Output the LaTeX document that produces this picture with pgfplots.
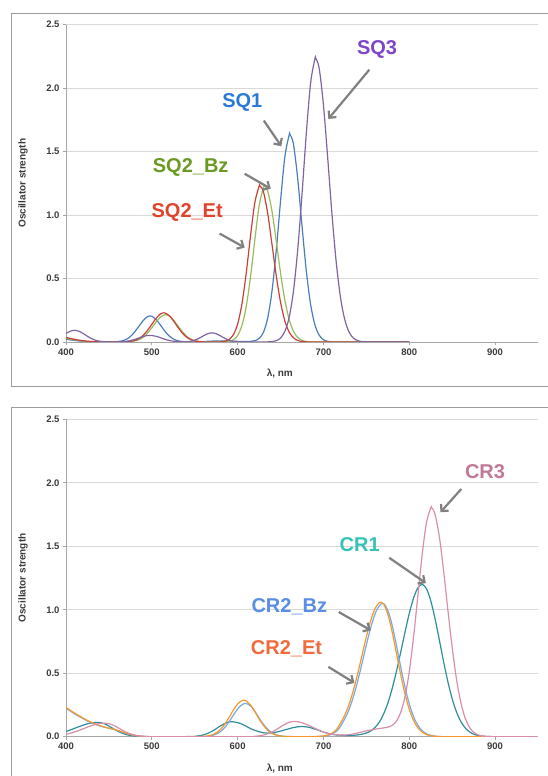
\documentclass[border=0pt]{standalone}
\usepackage{pgfplots}
\pgfplotsset{compat=1.18}
\usepackage{fontspec}
\setmainfont{Liberation Sans}
\usetikzlibrary{arrows.meta}

\definecolor{frameGray}{HTML}{9C9C9C}
\definecolor{axisGray}{HTML}{A6A6A6}
\definecolor{gridGray}{HTML}{D9D9D9}
\definecolor{tickInk}{HTML}{3A3A3A}
\definecolor{arrowGray}{HTML}{808080}
% line colours
\definecolor{lnSQone}{HTML}{4A7EBB}
\definecolor{lnSQbz}{HTML}{9BBB59}
\definecolor{lnSQet}{HTML}{C9403A}
\definecolor{lnSQthree}{HTML}{8064A2}
\definecolor{lnCRone}{HTML}{2E8E9A}
\definecolor{lnCRbz}{HTML}{7EA6E0}
\definecolor{lnCRet}{HTML}{F39A2C}
\definecolor{lnCRthree}{HTML}{D88FAA}
% label colours
\definecolor{lbSQone}{HTML}{2A78D8}
\definecolor{lbSQbz}{HTML}{6A9A22}
\definecolor{lbSQet}{HTML}{E0422A}
\definecolor{lbSQthree}{HTML}{7F45C8}
\definecolor{lbCRone}{HTML}{35C3B5}
\definecolor{lbCRbz}{HTML}{5A8DE8}
\definecolor{lbCRet}{HTML}{F06A3A}
\definecolor{lbCRthree}{HTML}{C07898}

\pgfplotsset{
  specax/.style={
    scale only axis, width=472pt, height=317.4pt,
    xmin=400, xmax=950, ymin=0, ymax=2.5,
    xtick={400,500,600,700,800,900}, ytick={0,0.5,1,1.5,2,2.5},
    axis x line*=bottom, axis y line*=left,
    axis line style={draw=axisGray, line width=0.8pt},
    tick align=outside, major tick length=3pt,
    tick style={draw=axisGray, line width=0.8pt},
    ymajorgrids, grid style={draw=gridGray, line width=0.8pt},
    ticklabel style={font=\fontsize{9.5}{11}\selectfont\bfseries, text=tickInk},
    /pgf/number format/assume math mode=true,
    yticklabel style={/pgf/number format/fixed, /pgf/number format/fixed zerofill, /pgf/number format/precision=1},
    xlabel={λ, nm}, ylabel={Oscillator strength},
    label style={font=\fontsize{10}{12}\selectfont\bfseries, text=tickInk},
    xlabel style={at={(axis description cs:0.453,-0.099)}, anchor=center},
    ylabel style={at={(axis description cs:-0.091,0.5)}, anchor=center},
  },
  spec/.style={smooth, line width=1.2pt, no marks},
}
\tikzset{
  lab/.style={font=\fontsize{20}{24}\selectfont\bfseries},
  arr/.style={draw=arrowGray, line width=2.2pt, -{Straight Barb[length=5pt,width=10pt]}},
}

\begin{document}
\begin{tikzpicture}
\useasboundingbox (0,0) rectangle (548pt,776pt);
\draw[frameGray, line width=0.8pt] (11.5pt,389.3pt) rectangle (600pt,762.7pt);
\draw[frameGray, line width=0.8pt] (11.5pt,-20pt) rectangle (600pt,368.7pt);

% ---------------- top: SQ dyes ----------------
\begin{axis}[specax, at={(66pt,434pt)}, anchor=south west]
\addplot[spec, lnSQone] table {
x y
400 0.022
405 0.017
410 0.012
415 0.008
420 0.005
425 0.003
430 0.002
440 0.001
455 0.001
460 0.003
465 0.008
470 0.020
475 0.043
480 0.079
485 0.124
490 0.170
495 0.200
498 0.205
500 0.203
505 0.177
510 0.134
515 0.087
520 0.049
525 0.024
530 0.010
535 0.004
540 0.001
550 0.001
560 0.003
570 0.007
580 0.009
590 0.008
600 0.005
605 0.004
610 0.004
615 0.005
620 0.010
625 0.028
630 0.075
635 0.188
640 0.399
645 0.721
650 1.110
655 1.457
660 1.630
661 1.635
665 1.560
670 1.287
675 0.915
680 0.562
685 0.298
690 0.136
695 0.054
700 0.018
705 0.005
710 0.001
720 0
800 0
};
\addplot[spec, lnSQbz] table {
x y
400 0.030
405 0.023
410 0.017
415 0.012
420 0.008
425 0.005
430 0.003
435 0.002
440 0.001
455 0
470 0.001
475 0.003
480 0.008
485 0.018
490 0.038
495 0.070
500 0.112
505 0.158
510 0.196
515 0.214
516 0.215
520 0.206
525 0.175
530 0.130
535 0.086
540 0.049
545 0.025
550 0.011
555 0.004
560 0.002
570 0
580 0
585 0.001
590 0.005
595 0.017
600 0.051
605 0.130
610 0.279
615 0.512
620 0.802
625 1.071
630 1.216
632 1.225
635 1.190
640 1.031
645 0.794
650 0.543
655 0.330
660 0.178
665 0.085
670 0.036
675 0.013
680 0.004
685 0.001
695 0
800 0
};
\addplot[spec, lnSQet] table {
x y
400 0.036
405 0.028
410 0.021
415 0.015
420 0.010
425 0.006
430 0.004
435 0.002
440 0.001
450 0
460 0
465 0.001
470 0.002
475 0.005
480 0.012
485 0.027
490 0.053
495 0.092
500 0.139
505 0.187
510 0.221
514 0.230
515 0.229
520 0.210
525 0.169
530 0.120
535 0.075
540 0.041
545 0.020
550 0.008
555 0.003
560 0.001
570 0
575 0
580 0.001
585 0.006
590 0.019
595 0.057
600 0.141
605 0.300
610 0.542
615 0.835
620 1.096
625 1.226
626 1.230
630 1.184
635 1.015
640 0.771
645 0.522
650 0.313
655 0.166
660 0.079
665 0.033
670 0.012
675 0.004
680 0.001
690 0
800 0
};
\addplot[spec, lnSQthree] table {
x y
400 0.067
405 0.085
410 0.092
415 0.085
420 0.067
425 0.045
430 0.026
435 0.012
440 0.005
445 0.002
450 0.001
460 0.001
465 0.002
470 0.005
475 0.011
480 0.020
485 0.032
490 0.043
495 0.051
500 0.051
505 0.045
510 0.034
515 0.022
520 0.012
525 0.006
530 0.003
535 0.001
540 0.002
545 0.005
550 0.014
555 0.029
560 0.048
565 0.065
570 0.072
575 0.065
580 0.048
585 0.029
590 0.014
595 0.005
600 0.002
605 0.001
615 0
630 0
635 0.001
640 0.003
645 0.010
650 0.031
655 0.083
660 0.192
665 0.398
670 0.726
675 1.162
680 1.640
685 2.038
690 2.229
691 2.235
695 2.157
700 1.866
705 1.446
710 1.001
715 0.621
720 0.344
725 0.172
730 0.076
735 0.030
740 0.011
745 0.003
750 0.001
760 0
800 0
};
\node[lab, text=lbSQthree] at (axis cs:762.5,2.307) {SQ3};
\draw[arr] (axis cs:753.5,2.145) -- (axis cs:705.7,1.757);
\node[lab, text=lbSQone] at (axis cs:605.4,1.888) {SQ1};
\draw[arr] (axis cs:630.5,1.744) -- (axis cs:650.9,1.542);
\node[lab, text=lbSQbz] at (axis cs:545.3,1.377) {SQ2\_Bz};
\draw[arr] (axis cs:608.2,1.325) -- (axis cs:638.6,1.207);
\node[lab, text=lbSQet] at (axis cs:541.2,1.024) {SQ2\_Et};
\draw[arr] (axis cs:579,0.854) -- (axis cs:608.2,0.744);
\end{axis}

% ---------------- bottom: CR dyes ----------------
\begin{axis}[specax, at={(66pt,39.3pt)}, anchor=south west]
\addplot[spec, lnCRone] table {
x y
400 0.041
405 0.053
410 0.066
415 0.079
420 0.091
425 0.102
430 0.109
437 0.113
440 0.111
445 0.101
450 0.084
455 0.064
460 0.045
465 0.029
470 0.017
475 0.009
480 0.005
485 0.002
490 0.001
500 0
545 0.001
550 0.003
555 0.007
560 0.014
565 0.026
570 0.042
575 0.063
580 0.085
585 0.104
590 0.116
593 0.118
595 0.117
600 0.111
605 0.099
610 0.082
615 0.064
620 0.050
625 0.039
630 0.031
635 0.028
640 0.030
645 0.036
650 0.044
655 0.054
660 0.063
665 0.072
670 0.078
675 0.080
680 0.078
685 0.071
690 0.060
695 0.049
700 0.037
705 0.026
710 0.018
715 0.014
720 0.012
725 0.010
730 0.009
735 0.011
740 0.014
745 0.020
750 0.029
755 0.045
760 0.072
765 0.114
770 0.177
775 0.264
780 0.377
785 0.513
790 0.665
795 0.822
800 0.971
805 1.092
810 1.172
815 1.200
820 1.166
825 1.072
830 0.930
835 0.763
840 0.591
845 0.432
850 0.299
855 0.195
860 0.121
865 0.071
870 0.039
875 0.020
880 0.010
885 0.005
890 0.002
895 0.001
900 0
950 0
};
\addplot[spec, lnCRbz] table {
x y
400 0.223
405 0.202
410 0.180
415 0.161
420 0.142
425 0.124
430 0.109
435 0.095
440 0.083
445 0.074
450 0.066
455 0.058
460 0.049
465 0.038
470 0.027
475 0.017
480 0.010
485 0.005
490 0.002
495 0.001
505 0
550 0
557 0.001
562 0.002
567 0.005
572 0.013
577 0.027
582 0.052
587 0.089
592 0.138
597 0.190
602 0.235
607 0.259
609 0.262
612 0.257
617 0.228
622 0.180
627 0.127
632 0.081
637 0.046
642 0.024
647 0.011
652 0.005
657 0.002
662 0.001
672 0
687 0
692 0.001
697 0.003
702 0.006
707 0.013
712 0.028
717 0.054
722 0.107
727 0.170
732 0.255
737 0.364
742 0.494
747 0.637
752 0.779
757 0.904
762 0.998
767 1.045
769 1.050
772 1.036
777 0.956
782 0.820
787 0.653
792 0.485
797 0.334
802 0.214
807 0.127
812 0.070
817 0.036
822 0.017
827 0.008
832 0.003
837 0.001
847 0
950 0
};
\addplot[spec, lnCRet] table {
x y
400 0.230
405 0.208
410 0.186
415 0.166
420 0.146
425 0.128
430 0.112
435 0.098
440 0.086
445 0.076
450 0.068
455 0.060
460 0.050
465 0.039
470 0.028
475 0.018
480 0.010
485 0.005
490 0.002
495 0.001
505 0
545 0
550 0.001
555 0.001
560 0.002
565 0.006
570 0.014
575 0.030
580 0.057
585 0.098
590 0.152
595 0.209
600 0.258
605 0.285
607 0.288
610 0.282
615 0.250
620 0.198
625 0.140
630 0.089
635 0.050
640 0.026
645 0.012
650 0.005
655 0.002
660 0.001
670 0
685 0
690 0.001
695 0.003
700 0.006
705 0.013
710 0.028
715 0.055
720 0.108
725 0.172
730 0.258
735 0.368
740 0.499
745 0.643
750 0.787
755 0.913
760 1.008
765 1.056
767 1.060
770 1.046
775 0.966
780 0.828
785 0.660
790 0.490
795 0.337
800 0.216
805 0.128
810 0.071
815 0.036
820 0.017
825 0.008
830 0.003
835 0.001
845 0
950 0
};
\addplot[spec, lnCRthree] table {
x y
400 0.018
405 0.027
410 0.037
415 0.049
420 0.062
425 0.076
430 0.088
435 0.098
440 0.105
445 0.107
450 0.103
455 0.090
460 0.073
465 0.054
470 0.036
475 0.023
480 0.013
485 0.007
490 0.003
495 0.001
505 0
615 0
620 0.003
625 0.007
630 0.013
635 0.023
640 0.037
645 0.056
650 0.077
655 0.097
660 0.113
665 0.120
666 0.120
670 0.118
675 0.110
680 0.098
685 0.083
690 0.066
695 0.050
700 0.037
705 0.027
710 0.019
715 0.015
720 0.013
725 0.013
730 0.017
735 0.022
740 0.030
745 0.038
750 0.046
755 0.053
760 0.059
765 0.064
770 0.069
775 0.075
780 0.089
785 0.122
790 0.190
795 0.314
800 0.512
805 0.785
810 1.109
815 1.432
820 1.686
825 1.801
826 1.805
830 1.753
835 1.577
840 1.307
845 0.997
850 0.704
855 0.455
860 0.272
865 0.149
870 0.076
875 0.036
880 0.015
885 0.006
890 0.002
895 0.001
905 0
950 0
};
\node[lab, text=lbCRthree] at (axis cs:888.3,2.087) {CR3};
\draw[arr] (axis cs:860.6,1.951) -- (axis cs:836.3,1.768);
\node[lab, text=lbCRone] at (axis cs:742.2,1.514) {CR1};
\draw[arr] (axis cs:776.7,1.409) -- (axis cs:819.3,1.210);
\node[lab, text=lbCRbz] at (axis cs:660.2,1.027) {CR2\_Bz};
\draw[arr] (axis cs:717.8,0.982) -- (axis cs:755.2,0.838);
\node[lab, text=lbCRet] at (axis cs:657,0.694) {CR2\_Et};
\draw[arr] (axis cs:705.7,0.550) -- (axis cs:736.1,0.424);
\end{axis}
\end{tikzpicture}
\end{document}
